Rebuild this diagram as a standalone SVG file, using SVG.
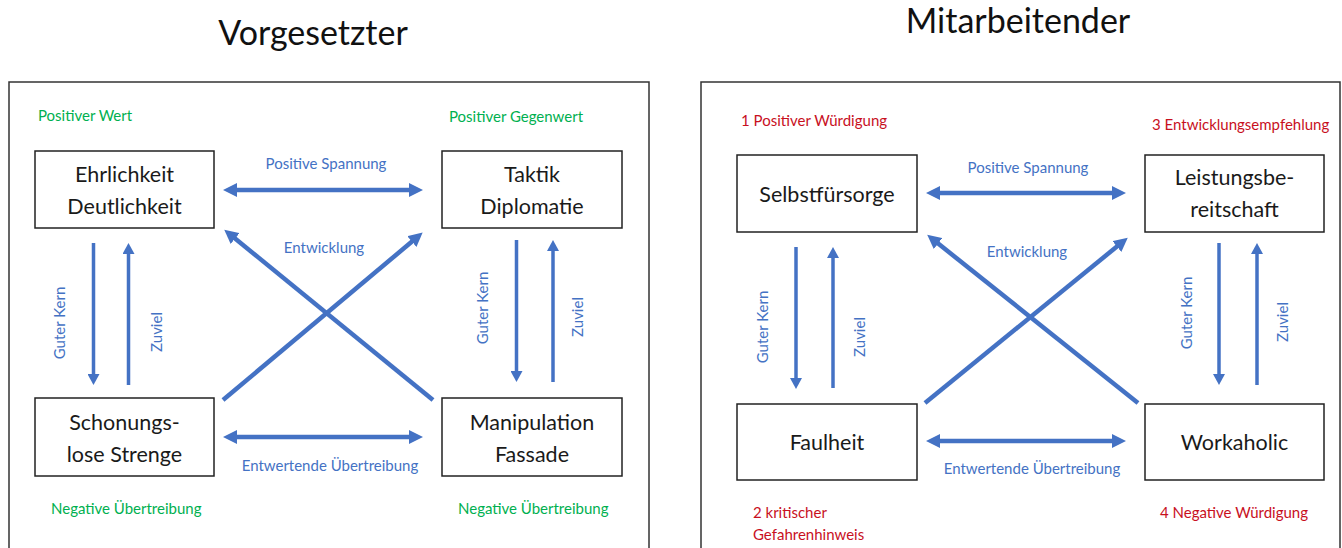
<svg xmlns="http://www.w3.org/2000/svg" width="1342" height="548" viewBox="0 0 1342 548">
  <style>
    .frame { fill: #ffffff; stroke: #333333; stroke-width: 1.5; }
    .box { fill: #ffffff; stroke: #222222; stroke-width: 1.5; }
    .title { font-family: Lato, "Liberation Sans", sans-serif; font-size: 34px; fill: #111111; text-anchor: middle; }
    .node { font-family: Lato, "Liberation Sans", sans-serif; font-size: 21.5px; fill: #1a1a1a; text-anchor: middle; }
    .lbl { font-family: Lato, "Liberation Sans", sans-serif; font-size: 15px; fill: #4472C4; }
    .mid { text-anchor: middle; }
    .green { font-family: Lato, "Liberation Sans", sans-serif; font-size: 15px; fill: #00B050; }
    .red { font-family: Lato, "Liberation Sans", sans-serif; font-size: 15px; fill: #C8101E; }
    .thick { stroke: #4472C4; stroke-width: 4.5; fill: none; }
    .thin { stroke: #4472C4; stroke-width: 3.5; fill: none; }
  </style>
  <defs>
    <marker id="headL" viewBox="0 0 14 14" refX="4" refY="7" markerWidth="14" markerHeight="14" markerUnits="userSpaceOnUse" orient="auto-start-reverse">
      <path d="M0,0 L14,7 L0,14 z" fill="#4472C4"/>
    </marker>
    <marker id="headS" viewBox="0 0 11 12" refX="3" refY="6" markerWidth="11" markerHeight="12" markerUnits="userSpaceOnUse" orient="auto">
      <path d="M0,0 L11,6 L0,12 z" fill="#4472C4"/>
    </marker>
  </defs>

  <!-- titles -->
  <text class="title" x="313" y="45">Vorgesetzter</text>
  <text class="title" x="1018" y="33">Mitarbeitender</text>

  <!-- panel frames -->
  <rect class="frame" x="9" y="82" width="640" height="480"/>
  <rect class="frame" x="701" y="82" width="639" height="480"/>

  <!-- left panel: corner captions -->
  <g id="captions-left">
    <text class="green" x="38" y="121">Positiver Wert</text>
    <text class="green" x="449" y="122">Positiver Gegenwert</text>
    <text class="green" x="51" y="514">Negative Übertreibung</text>
    <text class="green" x="458" y="514">Negative Übertreibung</text>
  </g>

  <!-- left panel nodes -->
  <g id="ehrlichkeit">
    <rect class="box" x="35" y="151" width="179" height="77"/>
    <text class="node" x="124.5" y="182">Ehrlichkeit</text>
    <text class="node" x="124.5" y="214">Deutlichkeit</text>
  </g>
  <g id="taktik">
    <rect class="box" x="442" y="151" width="180" height="77"/>
    <text class="node" x="532" y="182">Taktik</text>
    <text class="node" x="532" y="214">Diplomatie</text>
  </g>
  <g id="schonungslos">
    <rect class="box" x="35" y="398" width="179" height="78"/>
    <text class="node" x="124.5" y="430">Schonungs-</text>
    <text class="node" x="124.5" y="462">lose Strenge</text>
  </g>
  <g id="manipulation">
    <rect class="box" x="442" y="398" width="180" height="78"/>
    <text class="node" x="532" y="430">Manipulation</text>
    <text class="node" x="532" y="462">Fassade</text>
  </g>

  <!-- left panel connectors -->
  <g id="connectors-left">
    <line class="thick" x1="233" y1="190" x2="413" y2="190" marker-start="url(#headL)" marker-end="url(#headL)"/>
    <line class="thick" x1="233" y1="437" x2="413" y2="437" marker-start="url(#headL)" marker-end="url(#headL)"/>
    <line class="thick" x1="223" y1="400" x2="415" y2="239" marker-end="url(#headL)"/>
    <line class="thick" x1="433" y1="400" x2="232" y2="236" marker-end="url(#headL)"/>
    <line class="thin" x1="93.5" y1="243" x2="93.5" y2="377" marker-end="url(#headS)"/>
    <line class="thin" x1="128.5" y1="385" x2="128.5" y2="251" marker-end="url(#headS)"/>
    <line class="thin" x1="516.5" y1="240" x2="516.5" y2="374" marker-end="url(#headS)"/>
    <line class="thin" x1="553" y1="382" x2="553" y2="248" marker-end="url(#headS)"/>
    <text class="lbl mid" x="326" y="169">Positive Spannung</text>
    <text class="lbl mid" x="324" y="253">Entwicklung</text>
    <text class="lbl mid" x="330" y="471">Entwertende Übertreibung</text>
    <text class="lbl mid" transform="translate(65,323) rotate(-90)">Guter Kern</text>
    <text class="lbl mid" transform="translate(162,332) rotate(-90)">Zuviel</text>
    <text class="lbl mid" transform="translate(488,308) rotate(-90)">Guter Kern</text>
    <text class="lbl mid" transform="translate(583,317) rotate(-90)">Zuviel</text>
  </g>

  <!-- right panel: corner captions -->
  <g id="captions-right">
    <text class="red" x="741" y="126">1 Positiver Würdigung</text>
    <text class="red" x="1152" y="130">3 Entwicklungsempfehlung</text>
    <text class="red" x="753" y="518">2 kritischer</text>
    <text class="red" x="753" y="540">Gefahrenhinweis</text>
    <text class="red" x="1160" y="518">4 Negative Würdigung</text>
  </g>

  <!-- right panel nodes -->
  <g id="selbstfuersorge">
    <rect class="box" x="737" y="155" width="180" height="77"/>
    <text class="node" x="827" y="202">Selbstfürsorge</text>
  </g>
  <g id="leistungsbereitschaft">
    <rect class="box" x="1145" y="155" width="179" height="77"/>
    <text class="node" x="1234.5" y="185">Leistungsbe-</text>
    <text class="node" x="1234.5" y="217">reitschaft</text>
  </g>
  <g id="faulheit">
    <rect class="box" x="737" y="404" width="180" height="76"/>
    <text class="node" x="827" y="450">Faulheit</text>
  </g>
  <g id="workaholic">
    <rect class="box" x="1145" y="404" width="179" height="76"/>
    <text class="node" x="1234.5" y="450">Workaholic</text>
  </g>

  <!-- right panel connectors -->
  <g id="connectors-right">
    <line class="thick" x1="936" y1="193" x2="1116" y2="193" marker-start="url(#headL)" marker-end="url(#headL)"/>
    <line class="thick" x1="936" y1="441" x2="1116" y2="441" marker-start="url(#headL)" marker-end="url(#headL)"/>
    <line class="thick" x1="925" y1="403" x2="1120" y2="244" marker-end="url(#headL)"/>
    <line class="thick" x1="1138" y1="403" x2="935" y2="241" marker-end="url(#headL)"/>
    <line class="thin" x1="796" y1="247" x2="796" y2="381" marker-end="url(#headS)"/>
    <line class="thin" x1="833" y1="388" x2="833" y2="255" marker-end="url(#headS)"/>
    <line class="thin" x1="1219" y1="243" x2="1219" y2="377" marker-end="url(#headS)"/>
    <line class="thin" x1="1257" y1="385" x2="1257" y2="251" marker-end="url(#headS)"/>
    <text class="lbl mid" x="1028" y="173">Positive Spannung</text>
    <text class="lbl mid" x="1027" y="257">Entwicklung</text>
    <text class="lbl mid" x="1032" y="474">Entwertende Übertreibung</text>
    <text class="lbl mid" transform="translate(768,327) rotate(-90)">Guter Kern</text>
    <text class="lbl mid" transform="translate(865,337) rotate(-90)">Zuviel</text>
    <text class="lbl mid" transform="translate(1192,313) rotate(-90)">Guter Kern</text>
    <text class="lbl mid" transform="translate(1288,322) rotate(-90)">Zuviel</text>
  </g>
</svg>
